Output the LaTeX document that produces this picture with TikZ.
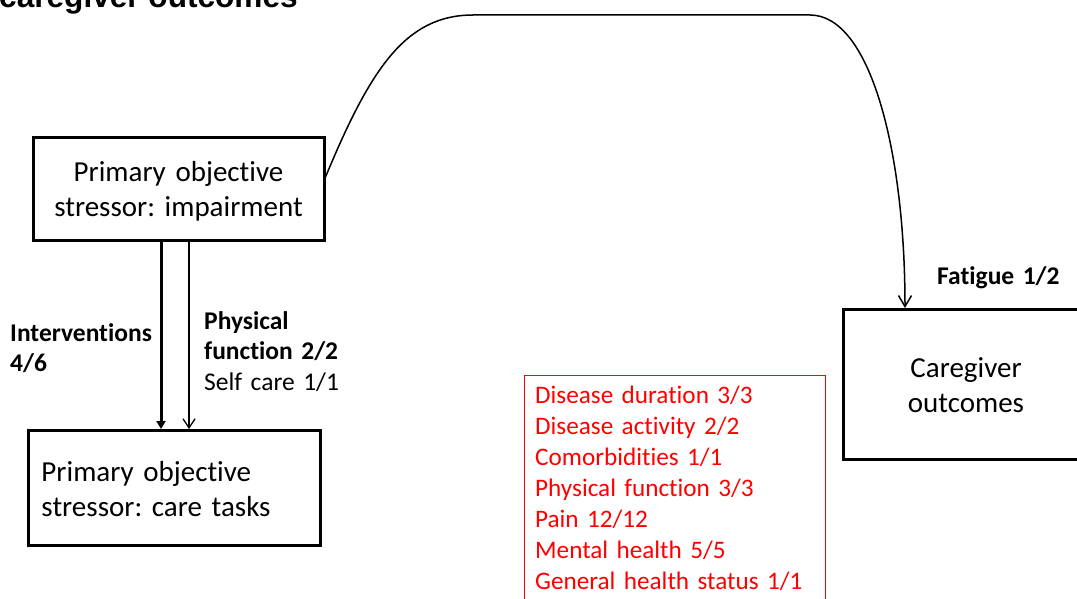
\documentclass[tikz,border=0pt]{standalone}
\usepackage{fontspec}
\setmainfont{Carlito}[Ligatures=NoCommon]
\newfontfamily\titlefont{Liberation Sans}
\usetikzlibrary{arrows.meta}
\frenchspacing

\begin{document}
\begin{tikzpicture}[x=1pt,y=-1pt,
  box/.style={draw, line width=3pt, inner xsep=13pt, inner ysep=0pt,
    text height=30pt, text depth=44pt, font=\fontsize{29}{35}\selectfont},
  redbox/.style={draw=red, line width=1.3pt, text=red, inner xsep=11pt, inner ysep=0pt,
    align=left, font=\fontsize{25.2}{31}\selectfont},
  lbl/.style={anchor=base west, inner sep=0pt, align=left, text width=200pt,
    font=\fontsize{25.5}{30.5}\selectfont},
  heavyarrow/.style={line width=3pt, -{Triangle[length=8pt,width=9pt]}},
  lightarrow/.style={line width=1.3pt, -{Straight Barb[length=9pt,width=12pt]}},
  curvearrow/.style={line width=1.5pt, -{Straight Barb[length=11pt,width=13pt]}}
]
\clip (0,0) rectangle (1077,599);

% heading (runs off the top edge)
\node[anchor=base west, inner sep=0pt, font=\titlefont\bfseries\fontsize{31.6}{37}\selectfont]
  (heading) at (-1,8) {caregiver outcomes};

% boxes
\node[box, minimum width=291pt, minimum height=102pt, text width=265pt, align=center]
  (impair) at (178.5,189) {Primary objective\\stressor: impairment};
\node[box, minimum width=292pt, minimum height=115pt, text width=266pt, align=left]
  (tasks) at (174.5,488) {Primary objective\\stressor: care tasks};
\node[box, minimum width=245pt, minimum height=150pt, text width=219pt, align=center]
  (outcomes) at (966,384.5) {Caregiver\\outcomes};

\node[redbox, anchor=north west, text width=279pt, text height=28.5pt, text depth=260pt]
  (factors) at (523.5,374.5)
  {Disease duration 3/3\\Disease activity 2/2\\Comorbidities 1/1\\Physical function 3/3\\Pain 12/12\\Mental health 5/5\\General health status 1/1};

% arrows between the stressor boxes
\coordinate (a1) at ([xshift=-17.5pt]impair.south);
\coordinate (a2) at ([xshift=10.5pt]impair.south);
\draw[heavyarrow] (a1) -- (a1 |- tasks.north);
\draw[lightarrow] (a2) -- (a2 |- tasks.north);

% long connector to the caregiver outcomes
\coordinate (c0) at ([yshift=12pt]impair.east);
\coordinate (c1) at ([xshift=-61pt]outcomes.north);
\draw[curvearrow] (c0) .. controls (370,70) and (405,15) .. (473,15)
  -- (810,15) .. controls (870,15) and (905,150) .. (c1);

% labels
\node[lbl] (interv) at (10,341) {\bfseries Interventions\\4/6};
\node[lbl] (physf) at (204,329) {\textbf{Physical}\\\textbf{function 2/2}\\Self care 1/1};
\node[lbl] (fatigue) at (937,284) {\bfseries Fatigue 1/2};
\end{tikzpicture}
\end{document}
